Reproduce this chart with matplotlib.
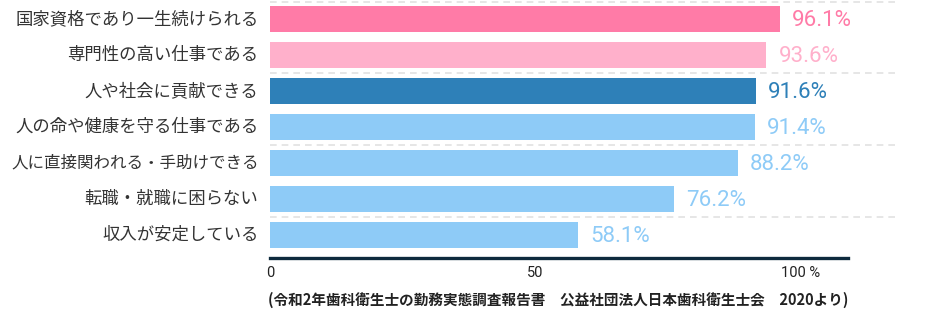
import matplotlib
matplotlib.use("Agg")
import matplotlib.pyplot as plt
from matplotlib import font_manager

categories = [
    "国家資格であり一生続けられる",
    "専門性の高い仕事である",
    "人や社会に貢献できる",
    "人の命や健康を守る仕事である",
    "人に直接関われる・手助けできる",
    "転職・就職に困らない",
    "収入が安定している",
]
values = [96.1, 93.6, 91.6, 91.4, 88.2, 76.2, 58.1]
bar_colors = ["#ff7ba7", "#ffb0cb", "#2e80b8", "#8ecbf7", "#8ecbf7", "#8ecbf7", "#8ecbf7"]
tick_values = [0, 50, 100]
tick_labels = ["0", "50", "100 %"]
source = "(令和2年歯科衛生士の勤務実態調査報告書　公益社団法人日本歯科衛生士会　2020より)"

cjk = ["Noto Sans CJK JP", "DejaVu Sans"]
avail = {f.name for f in font_manager.fontManager.ttflist}
num_font = [f for f in ["Liberation Sans Narrow", "Roboto", "DejaVu Sans"] if f in avail]

fig = plt.figure(figsize=(9.3, 3.28), dpi=100)
W, H = 930, 328
left, right, top, bottom = 270, 848, 2, 258
ax = fig.add_axes([left / W, 1 - bottom / H, (right - left) / W, (bottom - top) / H])

ypos = list(range(len(categories)))
ax.barh(ypos, values, height=0.72, color=bar_colors, edgecolor="none", zorder=3)
ax.set_xlim(0, 109)
ax.set_ylim(6.64, -0.47)

for sep in [-0.47, 1.5, 3.5, 5.5]:
    ax.axhline(sep, xmin=0, xmax=1.09, color="#e2e2e2", lw=1.2, ls=(0, (4, 3)), zorder=1, clip_on=False)

for y, v, c in zip(ypos, values, bar_colors):
    ax.annotate(f"{v:.1f}%", xy=(v, y), xytext=(9, -1), textcoords="offset points",
                ha="left", va="center", color=c, fontsize=16, family=num_font, zorder=4)

for y, lab in zip(ypos, categories):
    fs = 12.5 if len(lab) <= 14 else 11.9
    ax.text(-0.02, y, lab, transform=ax.get_yaxis_transform(), ha="right", va="center",
            fontsize=fs, color="#333333", family=cjk)

ax.set_yticks([])
ax.set_xticks(tick_values)
ax.set_xticklabels(tick_labels, family=num_font, fontsize=10.5, color="#222222")
ax.tick_params(axis="x", length=0, pad=6)
for s in ["top", "right", "left"]:
    ax.spines[s].set_visible(False)
ax.spines["bottom"].set_color("#0d2a3d")
ax.spines["bottom"].set_linewidth(2.4)

fig.text(268 / W, 1 - 300 / H, source, ha="left", va="center", fontsize=10.5,
         family=cjk, color="#222222", weight="bold")

fig.savefig("out.png", dpi=100)
